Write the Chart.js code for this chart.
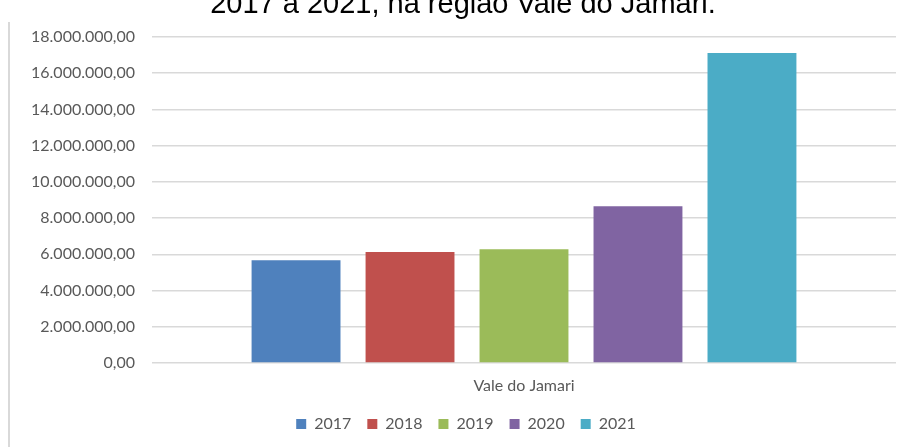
<!DOCTYPE html>
<html lang="pt-BR">
<head>
  <meta charset="UTF-8" />
  <title>Vale do Jamari 2017-2021</title>
  <style>
    html, body {
      margin: 0;
      padding: 0;
      background: #ffffff;
    }
    #wrap {
      position: relative;
      width: 903px;
      height: 447px;
    }
  </style>
</head>
<body>
  <div id="wrap">
    <canvas id="grafico" width="903" height="447"></canvas>
  </div>

  <script src="https://cdn.jsdelivr.net/npm/chart.js"></script>
  <script>
    // dados
    const regiao = ['Vale do Jamari'];
    const anos = ['2017', '2018', '2019', '2020', '2021'];
    const valores = [5670000, 6130000, 6280000, 8660000, 17110000];
    const cores = ['#4F81BD', '#C0504D', '#9BBB59', '#8064A2', '#4BACC6'];

    const titulo = '2017 a 2021, na região Vale do Jamari.';

    // 18000000 -> "18.000.000,00"
    const formataBR = v => {
      const inteiro = Math.round(v).toString().replace(/\B(?=(\d{3})+(?!\d))/g, '.');
      return inteiro + ',00';
    };

    // título (cortado no topo), linha cinza à esquerda e legenda deslocada
    const extras = {
      id: 'extras',
      afterLayout(chart) {
        const lg = chart.legend;
        lg.left += 13;
        lg.right += 13;
      },
      afterDraw(chart) {
        const ctx = chart.ctx;
        ctx.save();
        ctx.strokeStyle = '#d9d9d9';
        ctx.lineWidth = 2;
        ctx.beginPath();
        ctx.moveTo(9, 22);
        ctx.lineTo(9, 447);
        ctx.stroke();

        ctx.fillStyle = '#000000';
        ctx.font = '29px "Liberation Sans", Arial, sans-serif';
        ctx.textAlign = 'center';
        ctx.textBaseline = 'alphabetic';
        ctx.fillText(titulo, 463, 13);
        ctx.restore();
      }
    };

    new Chart(document.getElementById('grafico'), {
      type: 'bar',
      data: {
        labels: regiao,
        datasets: anos.map((ano, i) => ({
          label: ano,
          data: [valores[i]],
          backgroundColor: cores[i],
          borderWidth: 0
        }))
      },
      options: {
        responsive: false,
        animation: false,
        layout: {
          padding: { top: 37, left: 10, right: 7, bottom: 5 }
        },
        datasets: {
          bar: { categoryPercentage: 0.766, barPercentage: 0.78 }
        },
        plugins: {
          legend: {
            position: 'bottom',
            labels: {
              boxWidth: 10,
              boxHeight: 10,
              padding: 16,
              color: '#595959',
              font: { family: 'Lato', size: 16 }
            }
          },
          title: { display: false },
          tooltip: { enabled: false }
        },
        scales: {
          x: {
            grid: { display: false, drawTicks: false },
            border: { display: false },
            ticks: {
              color: '#595959',
              padding: 13,
              font: { family: 'Lato', size: 16 }
            },
            afterFit(scale) { scale.height = 37; }
          },
          y: {
            min: 0,
            max: 18000000,
            grid: { color: '#d9d9d9', lineWidth: 1.5, drawTicks: false },
            border: { display: false },
            ticks: {
              stepSize: 2000000,
              color: '#595959',
              padding: 17,
              font: { family: 'Lato', size: 16 },
              callback: v => formataBR(v)
            },
            afterFit(scale) { scale.width = 142; }
          }
        }
      },
      plugins: [extras]
    });
  </script>
</body>
</html>
